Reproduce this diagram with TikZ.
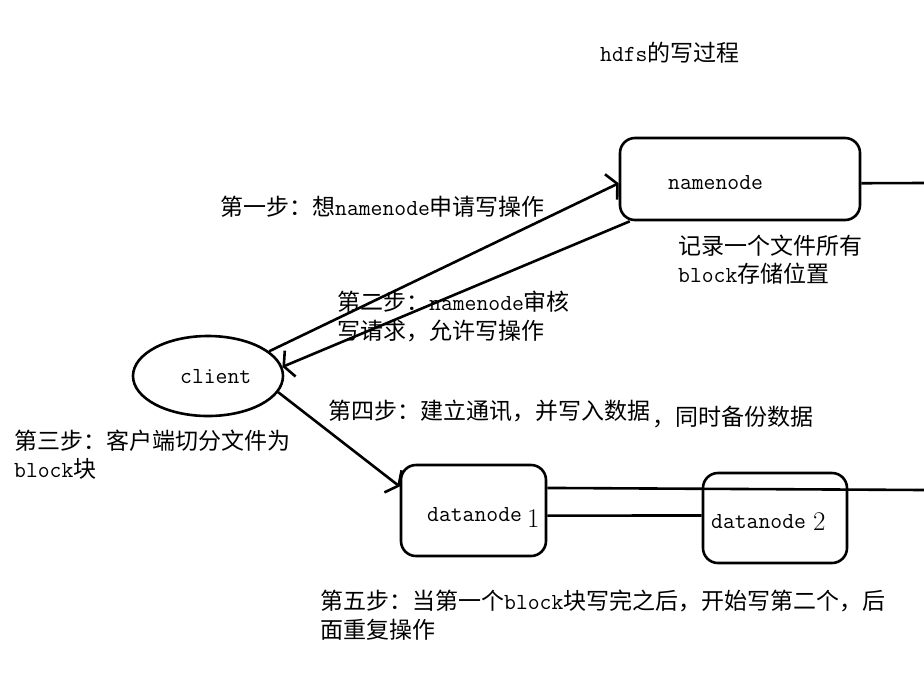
\documentclass[tikz,border=0pt]{standalone}
\usepackage{fontspec}
\usetikzlibrary{shapes.geometric,arrows.meta}
\newfontfamily\cjkf{Noto Sans CJK SC}
\newcommand\C[1]{{\cjkf#1}}
\begin{document}
\begin{tikzpicture}[x=1pt,y=-1pt,
  ln/.style={line width=2.6pt},
  box/.style={draw, line width=2.6pt, rounded corners=15pt, inner sep=0pt},
  arr/.style={line width=2.6pt, -{Straight Barb[length=7pt,width=28pt]}},
  txt/.style={anchor=base west, inner sep=0pt, font=\ttfamily\fontsize{23}{29}\selectfont}]
\useasboundingbox[fill=white] (0,0) rectangle (924,673);

% shapes
\node[box, minimum width=240pt, minimum height=82pt] (nn) at (740,179) {};
\node[draw, ellipse, line width=2.6pt, minimum width=150pt, minimum height=80pt, inner sep=0pt] (client) at (208,376) {};
\node[box, minimum width=145pt, minimum height=91pt] (dn1) at (473.5,510.5) {};
\node[box, minimum width=144pt, minimum height=90pt] (dn2) at (775,518) {};

% labels inside shapes
\node[txt] (nnlab) at (668,189) {namenode};
\node[txt] (clientlab) at (180,383) {client};
\node[txt] (dn1lab) at (427,521) {datanode};
\node[anchor=base west, inner sep=0pt, font=\rmfamily\fontsize{27}{30}\selectfont] (dn1num) at (527,527) {1};
\node[txt] (dn2lab) at (711,528) {datanode};
\node[anchor=base west, inner sep=0pt, font=\rmfamily\fontsize{27}{30}\selectfont] (dn2num) at (813,530) {2};

% connectors
\draw[arr] (client.22) -- (nn.182);
\draw[arr] (nn.201) -- (client.7);
\draw[arr] (client.-13) -- (dn1.162);
\coordinate (e1) at (924,183);
\draw[ln] (nn.-2) -- (e1);
\coordinate (e2) at (924,490);
\draw[ln] (dn1.17) -- (e2);
\draw[ln] (dn1.-4) -- (dn2.178);

% texts
\node[txt] (title) at (600,61) {hdfs\C{的写过程}};
\node[txt] (s1) at (220,215) {\C{第一步：想}namenode\C{申请写操作}};
\node[txt] (rec1) at (678,254) {\C{记录一个文件所有}};
\node[txt] (rec2) at (678,282) {block\C{存储位置}};
\node[txt] (s2a) at (337,310) {\C{第二步：}namenode\C{审核}};
\node[txt] (s2b) at (337,339) {\C{写请求，允许写操作}};
\node[txt] (s4a) at (328,419) {\C{第四步：建立通讯，并写入数据}};
\node[txt] (s4b) at (652,425) {\C{，同时备份数据}};
\node[txt] (s3a) at (14,449) {\C{第三步：客户端切分文件为}};
\node[txt] (s3b) at (14,477) {block\C{块}};
\node[txt] (s5a) at (320,609) {\C{第五步：当第一个}block\C{块写完之后，开始写第二个，后}};
\node[txt] (s5b) at (320,638) {\C{面重复操作}};
\end{tikzpicture}
\end{document}
